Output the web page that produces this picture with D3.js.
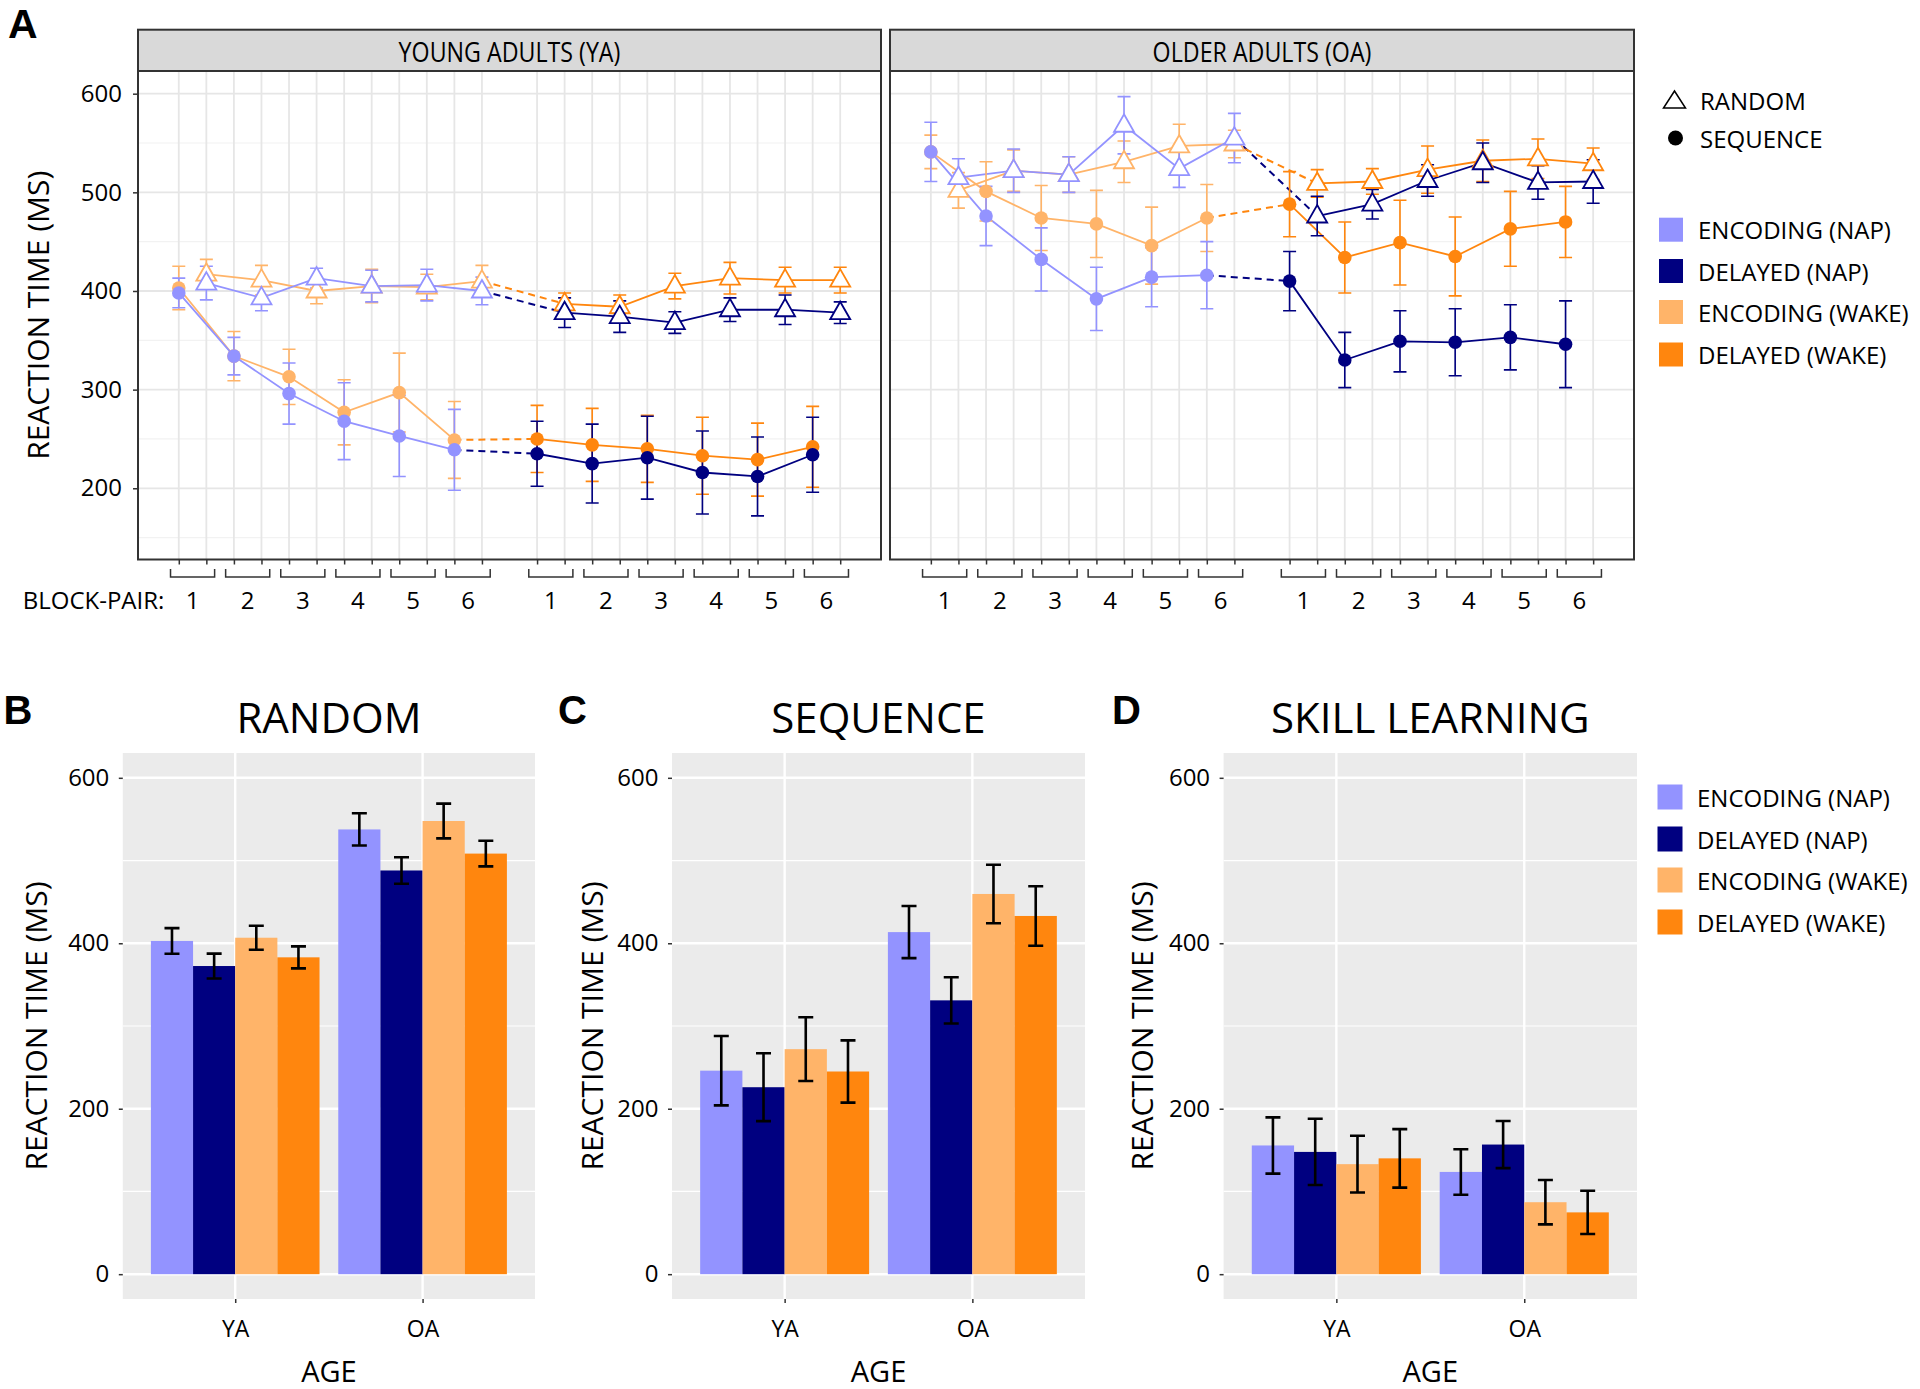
<!DOCTYPE html>
<html><head><meta charset="utf-8">
<script src="https://cdn.jsdelivr.net/npm/d3@7"></script>
<style>body{margin:0;background:#fff} text{font-family:'Open Sans',sans-serif} text.letter{font-family:'Liberation Sans',Arial,sans-serif}</style>
</head><body><svg id="c" width="1920" height="1389"></svg>
<script>
// ---------------- DATA ----------------
const conditions = ["ENCODING (NAP)", "DELAYED (NAP)", "ENCODING (WAKE)", "DELAYED (WAKE)"];
const colors = ["#9393FF", "#000080", "#FFB469", "#FF860E"];
const blockPairs = [1, 2, 3, 4, 5, 6];
const ageGroups = ["YA", "OA"];
const ageLabels = ["YOUNG ADULTS (YA)", "OLDER ADULTS (OA)"];
const shapeLabels = ["RANDOM", "SEQUENCE"];

// Panel A : rows follow `conditions`, columns follow `blockPairs`
const yaSeqMean = [[398,334,296,268,253,239],[235,225,231,216,212,234],[403,334,313,277,297,249],[250,244,240,233,229,242]];
const yaSeqErr  = [[15,19,31,39,41,41],[33,40,42,42,40,38],[22,25,28,33,40,39],[34,37,34,39,37,41]];
const yaRndMean = [[408,393,413,405,406,400],[378,374,368,381,381,378],[417,411,400,405,404,410],[387,384,405,413,411,411]];
const yaRndErr  = [[17,13,10,16,16,14],[15,16,11,12,15,11],[15,15,13,17,13,16],[11,12,13,16,13,13]];
const oaSeqMean = [[541,476,432,392,414,416],[410,330,349,348,353,346],[541,501,474,468,446,474],[488,434,449,435,463,470]];
const oaSeqErr  = [[30,30,32,32,30,34],[30,28,31,34,33,44],[17,30,33,34,39,34],[33,36,43,40,38,36]];
const oaRndMean = [[515,522,518,568,524,555],[476,488,512,530,510,511],[502,522,518,531,547,549],[509,511,523,532,534,529]];
const oaRndErr  = [[19,22,18,29,19,25],[20,15,16,20,17,22],[18,21,18,21,22,14],[14,13,24,21,20,16]];

// Panels B-D : rows follow `ageGroups`, columns follow `conditions`
const randomMean   = [[402.8,372.5,406.7,383],[537.6,488,547.8,508.4]];
const randomErr    = [[15.5,15,14.5,13.3],[19.5,16,21,15.5]];
const sequenceMean = [[246,226,272,245],[413.5,331,459.6,433]];
const sequenceErr  = [[42,41,38.5,37.6],[31.5,28,35.4,36]];
const skillMean    = [[155.6,147.8,133,140],[123.6,156.7,87,74.7]];
const skillErr     = [[34,40,34.3,35.4],[27.5,28.5,26.8,26.2]];
const barTitles = ["RANDOM", "SEQUENCE", "SKILL LEARNING"];
const panelLetters = ["A", "B", "C", "D"];

// ---------------- HELPERS ----------------
const svg = d3.select("#c");
svg.append("rect").attr("width", 1920).attr("height", 1389).attr("fill", "#fff");

function label(x, y, str, size, o = {}) {
  const t = svg.append("text")
    .attr("transform", `translate(${x},${y}) scale(${o.sx || 1},1) rotate(${o.rot || 0})`)
    .attr("font-size", size).attr("text-anchor", o.anchor || "start")
    .attr("font-weight", o.weight || 400).attr("fill", "#000").text(str);
  if (o.base) t.attr("dominant-baseline", o.base);
  if (o.cls) t.attr("class", o.cls);
  return t;
}
function styleAxisText(g, size) {
  g.selectAll("text").attr("font-family", "'Open Sans',sans-serif").attr("font-size", size).attr("fill", "#000");
  g.selectAll("line").attr("stroke", "#333").attr("stroke-width", 1.5);
}

// ---------------- PANEL A ----------------
const aPanels = [{x0: 138, x1: 881}, {x0: 890, x1: 1634}];
const aTop = 71, aBot = 559.5, stripTop = 29.7;
const yA = d3.scaleLinear().domain([127.8, 623]).range([aBot, aTop]);
const positions = d3.range(1, 26).filter(p => p !== 13);
const seqData = [[yaSeqMean, yaSeqErr, yaRndMean, yaRndErr], [oaSeqMean, oaSeqErr, oaRndMean, oaRndErr]];
const triPath = "M0,-11L10,6.5L-10,6.5Z";

label(8, 38, panelLetters[0], 41, {weight: 700, cls: "letter"});

aPanels.forEach((p, ai) => {
  const x = d3.scaleLinear().domain([-0.48, 26.48]).range([p.x0, p.x1]);
  const g = svg.append("g");
  g.append("rect").attr("x", p.x0).attr("y", aTop).attr("width", p.x1 - p.x0).attr("height", aBot - aTop).attr("fill", "#fff");
  [150, 250, 350, 450, 550].forEach(v => g.append("line").attr("x1", p.x0).attr("x2", p.x1).attr("y1", yA(v)).attr("y2", yA(v)).attr("stroke", "#F2F2F2").attr("stroke-width", 1.2));
  [200, 300, 400, 500, 600].forEach(v => g.append("line").attr("x1", p.x0).attr("x2", p.x1).attr("y1", yA(v)).attr("y2", yA(v)).attr("stroke", "#E6E6E6").attr("stroke-width", 1.8));
  positions.forEach(v => g.append("line").attr("x1", x(v)).attr("x2", x(v)).attr("y1", aTop).attr("y2", aBot).attr("stroke", "#E6E6E6").attr("stroke-width", 1.8));

  // strip
  g.append("rect").attr("x", p.x0).attr("y", stripTop).attr("width", p.x1 - p.x0).attr("height", aTop - stripTop)
    .attr("fill", "#D9D9D9").attr("stroke", "#333").attr("stroke-width", 2);
  label((p.x0 + p.x1) / 2, (stripTop + aTop) / 2 + 1, ageLabels[ai], 27, {anchor: "middle", base: "central", sx: 0.86});

  // bottom ticks
  const xa = svg.append("g").attr("transform", `translate(0,${aBot})`)
    .call(d3.axisBottom(x).tickValues(positions).tickFormat("").tickSize(5));
  xa.select(".domain").remove();
  styleAxisText(xa, 24);

  // brackets and block-pair labels
  [0, 13].forEach(off => {
    blockPairs.forEach(k => {
      const s = 2 * k - 1 + off;
      svg.append("path").attr("d", `M${x(s - 0.3)},569V577H${x(s + 1.3)}V569`)
        .attr("fill", "none").attr("stroke", "#333").attr("stroke-width", 1.5);
      label(x(s + 0.5), 609, String(k), 24, {anchor: "middle"});
    });
  });

  // data
  const [sm, se, rm, re] = seqData[ai];
  const order = [2, 0, 3, 1];
  const line = d3.line().x(d => x(d[0])).y(d => yA(d[1]));
  const data = c => {
    const off = (c % 2 === 1) ? 13 : 0;
    return {
      seq: blockPairs.map((k, i) => [2 * k - 1 + off, sm[c][i], se[c][i]]),
      rnd: blockPairs.map((k, i) => [2 * k + off, rm[c][i], re[c][i]])
    };
  };
  // dashed connectors
  [0, 2].forEach(c => {
    const a = data(c), b = data(c + 1);
    ["seq", "rnd"].forEach(key => {
      g.append("path").attr("d", line([a[key][5], b[key][0]])).attr("fill", "none")
        .attr("stroke", colors[c + 1]).attr("stroke-width", 2).attr("stroke-dasharray", "7,5");
    });
  });
  order.forEach(c => {
    const d = data(c);
    ["seq", "rnd"].forEach(key => {
      g.append("path").attr("d", line(d[key])).attr("fill", "none").attr("stroke", colors[c]).attr("stroke-width", 1.8);
    });
  });
  order.forEach(c => {
    const d = data(c);
    [...d.seq, ...d.rnd].forEach(pt => {
      const cx = x(pt[0]), y1 = yA(pt[1] + pt[2]), y2 = yA(pt[1] - pt[2]);
      g.append("path").attr("d", `M${cx - 6.5},${y1}H${cx + 6.5}M${cx},${y1}V${y2}M${cx - 6.5},${y2}H${cx + 6.5}`)
        .attr("fill", "none").attr("stroke", colors[c]).attr("stroke-width", 1.6);
    });
  });
  order.forEach(c => {
    const d = data(c);
    d.seq.forEach(pt => g.append("circle").attr("cx", x(pt[0])).attr("cy", yA(pt[1])).attr("r", 6.8).attr("fill", colors[c]));
    d.rnd.forEach(pt => g.append("path").attr("d", triPath).attr("transform", `translate(${x(pt[0])},${yA(pt[1])})`)
      .attr("fill", "#fff").attr("stroke", colors[c]).attr("stroke-width", 1.8));
  });

  g.append("rect").attr("x", p.x0).attr("y", aTop).attr("width", p.x1 - p.x0).attr("height", aBot - aTop)
    .attr("fill", "none").attr("stroke", "#333").attr("stroke-width", 2);

  if (ai === 0) {
    const ya = svg.append("g").attr("transform", `translate(${p.x0},0)`)
      .call(d3.axisLeft(yA).tickValues([200, 300, 400, 500, 600]).tickSize(5).tickPadding(11));
    ya.select(".domain").remove();
    styleAxisText(ya, 24);
  }
});
label(37, (aTop + aBot) / 2, "REACTION TIME (MS)", 30, {anchor: "middle", base: "central", rot: -90});
label(22.7, 609, "BLOCK-PAIR:", 24);

// legend A
svg.append("path").attr("d", "M0,-9L11,8L-11,8Z").attr("transform", "translate(1674.5,100)").attr("fill", "#fff").attr("stroke", "#000").attr("stroke-width", 1.5);
label(1700, 100, shapeLabels[0], 24, {base: "central"});
svg.append("circle").attr("cx", 1675.5).attr("cy", 138).attr("r", 7.5).attr("fill", "#000");
label(1700, 138, shapeLabels[1], 24, {base: "central"});
[229.7, 271, 312, 354.5].forEach((cy, i) => {
  svg.append("rect").attr("x", 1659).attr("y", cy - 12).attr("width", 24).attr("height", 24).attr("fill", colors[i]);
  label(1698, cy, conditions[i], 24, {base: "central"});
});

// ---------------- PANELS B-D ----------------
const barPanels = [
  {x0: 122.8, x1: 535, mean: randomMean, err: randomErr, ytx: 35, lx: 3.5},
  {x0: 672, x1: 1085, mean: sequenceMean, err: sequenceErr, ytx: 591, lx: 558},
  {x0: 1223.6, x1: 1637, mean: skillMean, err: skillErr, ytx: 1141, lx: 1112}
];
const bTop = 753, bBot = 1299;
const yB = d3.scaleLinear().domain([-30, 630]).range([bBot, bTop]);

barPanels.forEach((p, bi) => {
  const x = d3.scaleLinear().domain([0.4, 2.6]).range([p.x0, p.x1]);
  const g = svg.append("g");
  g.append("rect").attr("x", p.x0).attr("y", bTop).attr("width", p.x1 - p.x0).attr("height", bBot - bTop).attr("fill", "#EBEBEB");
  [100, 300, 500].forEach(v => g.append("line").attr("x1", p.x0).attr("x2", p.x1).attr("y1", yB(v)).attr("y2", yB(v)).attr("stroke", "#fff").attr("stroke-width", 1.2));
  [0, 200, 400, 600].forEach(v => g.append("line").attr("x1", p.x0).attr("x2", p.x1).attr("y1", yB(v)).attr("y2", yB(v)).attr("stroke", "#fff").attr("stroke-width", 2.4));
  [1, 2].forEach(v => g.append("line").attr("x1", x(v)).attr("x2", x(v)).attr("y1", bTop).attr("y2", bBot).attr("stroke", "#fff").attr("stroke-width", 2.4));

  const bw = 0.225;
  ageGroups.forEach((age, a) => {
    conditions.forEach((cond, c) => {
      const l = a + 1 - 0.45 + c * bw;
      g.append("rect").attr("x", x(l)).attr("width", x(l + bw) - x(l))
        .attr("y", yB(p.mean[a][c])).attr("height", yB(0) - yB(p.mean[a][c])).attr("fill", colors[c]);
    });
  });
  ageGroups.forEach((age, a) => {
    conditions.forEach((cond, c) => {
      const cx = x(a + 1 - 0.45 + (c + 0.5) * bw);
      const y1 = yB(p.mean[a][c] + p.err[a][c]), y2 = yB(p.mean[a][c] - p.err[a][c]);
      g.append("path").attr("d", `M${cx - 7.5},${y1}H${cx + 7.5}M${cx},${y1}V${y2}M${cx - 7.5},${y2}H${cx + 7.5}`)
        .attr("fill", "none").attr("stroke", "#000").attr("stroke-width", 2.6);
    });
  });

  const ya = svg.append("g").attr("transform", `translate(${p.x0},0)`)
    .call(d3.axisLeft(yB).tickValues([0, 200, 400, 600]).tickSize(4).tickPadding(9.5));
  ya.select(".domain").remove();
  styleAxisText(ya, 24);
  const xa = svg.append("g").attr("transform", `translate(0,${bBot})`)
    .call(d3.axisBottom(x).tickValues([1, 2]).tickFormat(v => ageGroups[v - 1]).tickSize(4).tickPadding(18));
  xa.select(".domain").remove();
  styleAxisText(xa, 23);

  label((p.x0 + p.x1) / 2, 733, barTitles[bi], 42, {anchor: "middle"});
  label(p.lx, 723.7, panelLetters[bi + 1], 40, {weight: 700, cls: "letter"});
  label(p.ytx, (bTop + bBot) / 2, "REACTION TIME (MS)", 30, {anchor: "middle", base: "central", rot: -90});
  label((p.x0 + p.x1) / 2, 1382, "AGE", 29, {anchor: "middle"});
});

// legend D
[797, 839, 880, 922].forEach((cy, i) => {
  svg.append("rect").attr("x", 1657.5).attr("y", cy - 12.5).attr("width", 25).attr("height", 25).attr("fill", colors[i]);
  label(1697, cy, conditions[i], 24, {base: "central"});
});
</script></body></html>
